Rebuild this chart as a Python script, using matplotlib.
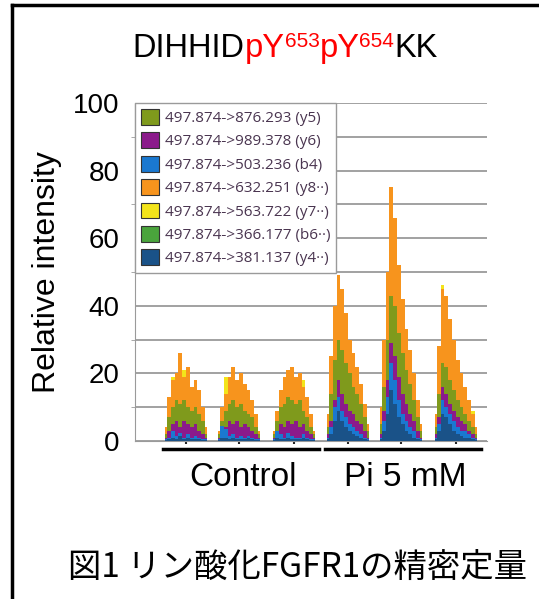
import numpy as np
import matplotlib.pyplot as plt
from matplotlib.patches import Patch
from matplotlib.lines import Line2D

plt.rcParams['font.family'] = ['Liberation Sans', 'DejaVu Sans']

# legend entries
transitions = ['497.874->876.293 (y5)', '497.874->989.378 (y6)', '497.874->503.236 (b4)',
               '497.874->632.251 (y8\u00b7\u00b7)', '497.874->563.722 (y7\u00b7\u00b7)',
               '497.874->366.177 (b6\u00b7\u00b7)', '497.874->381.137 (y4\u00b7\u00b7)']
groups = ['Control', 'Pi 5 mM']

# retention window start of each of the 6 injections (3 control, 3 Pi)
rt_start = [30, 83, 138, 192, 245, 300]
rt_step = 3.8

# relative intensity of each transition, one list per injection
y8 = [[4, 13, 18, 20, 26, 19, 22, 16, 18, 15, 10, 4],
      [3, 10, 14, 19, 22, 18, 20, 17, 15, 12, 8, 3],
      [3, 9, 15, 19, 21, 22, 19, 20, 16, 13, 8, 3],
      [8, 25, 40, 49, 45, 38, 30, 26, 22, 17, 11, 5],
      [10, 30, 50, 75, 66, 52, 42, 33, 27, 20, 12, 5],
      [8, 28, 45, 43, 36, 30, 24, 20, 16, 12, 8, 4]]
y7 = [[3, 10, 19, 17, 20, 21, 17, 14, 15, 13, 8, 3],
      [2, 8, 19, 15, 18, 17, 16, 14, 12, 10, 6, 2],
      [2, 8, 13, 16, 18, 21, 17, 16, 18, 11, 6, 2],
      [6, 20, 33, 44, 40, 34, 28, 22, 20, 15, 9, 4],
      [8, 24, 40, 58, 56, 46, 36, 28, 23, 17, 10, 4],
      [6, 24, 46, 40, 32, 27, 22, 18, 15, 11, 9, 3]]
y5 = [[2, 7, 10, 12, 11, 12, 10, 9, 10, 8, 6, 2],
      [2, 6, 9, 11, 12, 10, 11, 9, 8, 7, 4, 2],
      [2, 6, 10, 11, 13, 12, 11, 12, 9, 7, 4, 2],
      [4, 14, 24, 30, 27, 23, 20, 16, 14, 11, 7, 3],
      [5, 16, 30, 43, 40, 32, 26, 21, 17, 12, 7, 3],
      [4, 14, 23, 22, 18, 15, 12, 10, 8, 6, 4, 2]]
b6 = [[2, 6, 9, 10, 9, 11, 9, 8, 8, 7, 5, 2],
      [1, 5, 8, 9, 10, 9, 9, 8, 7, 6, 3, 1],
      [1, 5, 8, 9, 11, 10, 9, 10, 8, 6, 3, 1],
      [3, 12, 20, 26, 24, 20, 17, 14, 12, 9, 6, 2],
      [4, 14, 26, 38, 35, 28, 22, 18, 14, 10, 6, 2],
      [3, 12, 20, 19, 16, 13, 11, 9, 7, 5, 3, 2]]
y6 = [[1, 3, 5, 6, 4, 6, 5, 4, 5, 3, 2, 1],
      [1, 3, 4, 6, 5, 6, 4, 5, 4, 3, 2, 1],
      [1, 3, 5, 4, 6, 5, 6, 4, 5, 3, 2, 1],
      [2, 6, 12, 18, 14, 11, 9, 8, 6, 5, 3, 1],
      [2, 9, 18, 29, 25, 19, 14, 11, 8, 6, 3, 1],
      [2, 7, 16, 14, 11, 9, 7, 6, 5, 3, 2, 1]]
b4 = [[0.5, 1, 3, 1.5, 2.5, 1, 2, 1, 1.5, 1, 0.5, 0.5],
      [0.5, 4.5, 3.5, 1.5, 2, 1, 1.5, 1, 1.5, 1, 0.5, 0.5],
      [0.5, 3, 2, 1, 2.5, 1.5, 1, 1, 2, 1, 0.5, 0.5],
      [1, 4, 10, 13, 9, 7, 5, 4, 3, 2, 1, 0.5],
      [1, 6, 13, 23, 18, 12, 8, 6, 4, 3, 1, 0.5],
      [1, 5, 12, 10, 8, 6, 4, 3, 3, 2, 1, 0.5]]
y4 = [[0.3, 0.5, 1, 0.5, 1.5, 0.5, 1, 0.5, 0.5, 0.5, 0.3, 0.3],
      [0.3, 1, 1, 0.5, 1, 0.5, 0.5, 0.5, 1, 0.5, 0.3, 0.3],
      [0.3, 1, 0.5, 0.5, 1, 0.5, 0.5, 0.5, 1, 0.5, 0.3, 0.3],
      [0.5, 2, 6, 9, 6, 4, 3, 2, 1.5, 1, 0.5, 0.3],
      [0.5, 3, 8, 15, 11, 7, 5, 3, 2, 1, 0.5, 0.3],
      [0.5, 3, 8, 7, 5, 3, 2, 1.5, 1, 1, 0.5, 0.3]]

colors = {'y5': '#7f9a1c', 'y6': '#8b1a8b', 'b4': '#1a78d0', 'y8': '#f7941d',
          'y7': '#f3e41a', 'b6': '#4aa43c', 'y4': '#1a5288'}
legend_keys = ['y5', 'y6', 'b4', 'y8', 'y7', 'b6', 'y4']
series = {'y5': y5, 'y6': y6, 'b4': b4, 'y8': y8, 'y7': y7, 'b6': b6, 'y4': y4}
draw_order = ['y7', 'y8', 'b6', 'y5', 'y6', 'b4', 'y4']

fig = plt.figure(figsize=(5.39, 5.99), dpi=100)
ax = fig.add_axes([0.2505, 0.2638, 0.653, 0.5643])

for key in draw_order:
    for i, vals in enumerate(series[key]):
        x = rt_start[i] + np.arange(len(vals)) * rt_step
        ax.fill_between(x, 0, vals, step='mid', color=colors[key], lw=0, zorder=3)

ax.set_xlim(0, 352)
ax.set_ylim(0, 100)
ax.set_yticks(range(0, 101, 20))
ax.set_yticks(range(10, 100, 20), minor=True)
ax.grid(axis='y', which='both', color='#9a9a9a', lw=1.3, zorder=0)
ax.tick_params(axis='y', which='major', length=0, labelsize=20, pad=11)
ax.tick_params(axis='y', which='minor', length=3, color='#9a9a9a')
centers = [s + 5.5 * rt_step for s in rt_start]
ax.set_xticks(centers)
ax.set_xticklabels([])
ax.tick_params(axis='x', length=2.5, width=1.5, color='#222222')
for s in ['top', 'right']:
    ax.spines[s].set_visible(False)
ax.spines['left'].set_color('#9a9a9a')
ax.spines['bottom'].set_color('#9a9a9a')
ax.set_ylabel('Relative intensity', fontsize=23, labelpad=8)

# group bars and labels
for g, (a, b) in enumerate([(0, 2), (3, 5)]):
    x0 = rt_start[a] - 2
    x1 = rt_start[b] + 11 * rt_step + 4
    ax.plot([x0, x1], [-2.4, -2.4], color='black', lw=2.5, clip_on=False)
    ax.text((x0 + x1) / 2 + 2, -10.8, groups[g], ha='center', va='center', fontsize=24)

handles = [Patch(facecolor=colors[k], edgecolor='#333333', lw=0.8) for k in legend_keys]
leg = ax.legend(handles, transitions, loc='upper left', bbox_to_anchor=(0, 1),
                borderaxespad=0, handlelength=1.15, handleheight=1.2,
                labelspacing=0.42, handletextpad=0.4, fancybox=False,
                edgecolor='#9a9a9a', framealpha=1, borderpad=0.4,
                prop={'family': ['Open Sans', 'DejaVu Sans'], 'size': 11})
for t in leg.get_texts():
    t.set_color('#4a3550')
leg.set_zorder(5)

# title with red phospho sites
parts = [('pY', 23.5, 'red', 0.0), ('653', 15, 'red', 0.42), ('pY', 23.5, 'red', 0.0),
         ('654', 15, 'red', 0.42), ('KK', 23.5, 'black', 0.0)]
t1 = fig.text(0.246, 0.905, 'DIHHID', fontsize=23.5, va='baseline')
prev = t1
main = t1
for txt, size, col, dy in parts:
    prev = ax.annotate(txt, xy=(1, dy), xycoords=(prev, main), fontsize=size,
                       color=col, va='bottom', ha='left', annotation_clip=False)
    if dy == 0:
        main = prev

fig.text(0.552, 0.053, '図1 リン酸化FGFR1の精密定量', ha='center', va='center',
         fontsize=24, family=['Noto Sans CJK JP', 'DejaVu Sans'])

# outer frame (left and top edges visible)
fig.add_artist(Line2D([0.023, 0.023], [0, 0.992], color='black', lw=2.5))
fig.add_artist(Line2D([0.023, 1.0], [0.992, 0.992], color='black', lw=2.5))

fig.savefig('out.png', dpi=100)
